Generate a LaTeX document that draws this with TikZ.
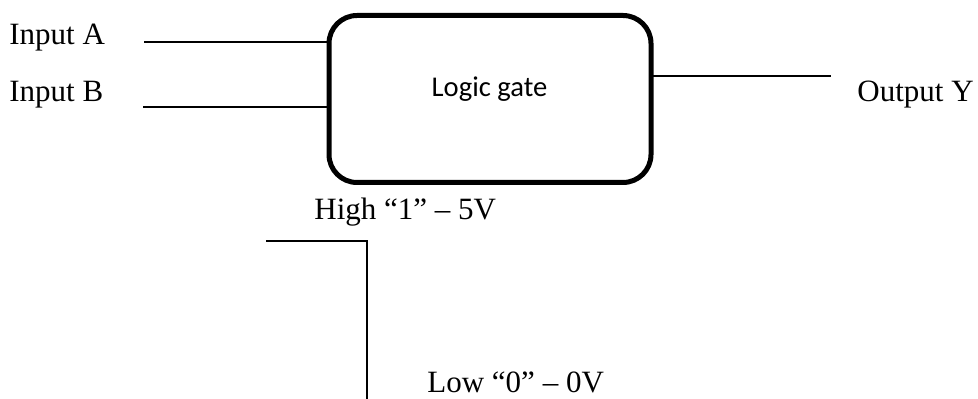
\documentclass[tikz,border=0pt]{standalone}
\usepackage{fontspec}
\setmainfont{Liberation Serif}
\newfontfamily\gatefont{Carlito}
\usepackage{tikz}
\usetikzlibrary{calc}

\begin{document}
\begin{tikzpicture}[x=0.5pt,y=-0.5pt,
        wire/.style={line width=1pt},
        gatebox/.style={draw,line width=2.5pt,rounded corners=14pt,minimum width=161pt,minimum height=83.5pt,inner sep=0pt},
        lbl/.style={anchor=base west,inner sep=0pt,font=\fontsize{15.5}{18}\selectfont}]
        \useasboundingbox (0,0) rectangle (978,399);
        % \draw (0,0) rectangle (978,399);
        \node[gatebox] (gate) at (490,99) {};
        \node[anchor=base,inner sep=0pt,font=\gatefont\fontsize{14.3}{17}\selectfont] (gatetxt) at (489.5,96.5) {Logic gate};

        \node[lbl] (inAtxt) at (9,45) {Input A};
        \node[lbl] (inBtxt) at (9,101.5) {Input B};
        \node[lbl] (outtxt) at (857,101.5) {Output Y};
        \node[lbl] (hightxt) at (314,220) {High ``1'' -- 5V};
        \node[lbl] (lowtxt) at (427,393) {Low ``0'' -- 0V};

        \coordinate (inA) at (144,42);
        \coordinate (inB) at (143,107.5);
        \coordinate (outY) at (831,76);
        \draw[wire] (inA) -- (inA -| gate.west);
        \draw[wire] (inB) -- (inB -| gate.west);
        \draw[wire] ($(outY -| gate.east)+(-4,0)$) -- (outY);

        % pulse
        \coordinate (hiL) at (266,241);
        \coordinate (hiR) at (367,241);
        \coordinate (loB) at (367,399);
        \draw[wire] (hiL) -- (hiR) -- (loB);
\end{tikzpicture}
\end{document}
